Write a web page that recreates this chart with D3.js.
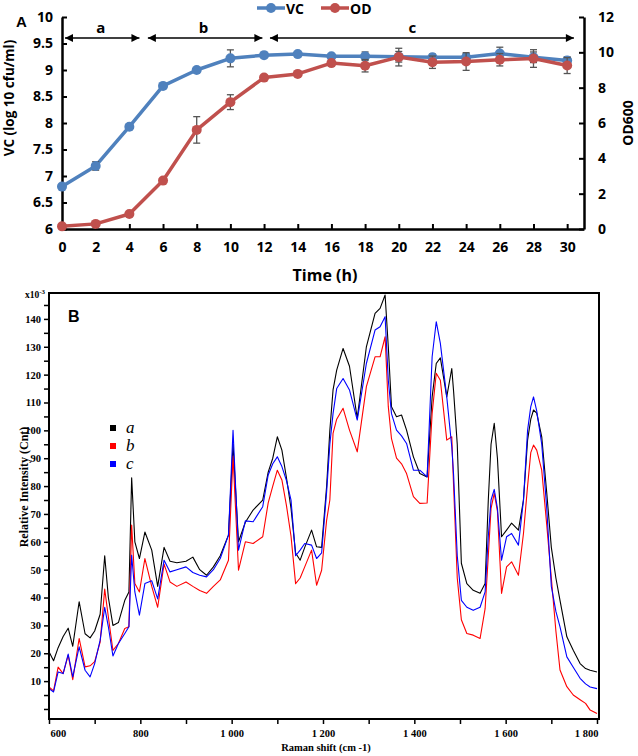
<!DOCTYPE html>
<html><head><meta charset="utf-8">
<script src="https://cdn.jsdelivr.net/npm/d3@7"></script>
<style>body{margin:0;background:#fff}svg{display:block}</style>
</head><body>
<svg id="c" width="638" height="756"></svg>
<script>
// ---------- Panel A data ----------
const hours = [0,2,4,6,8,10,12,14,16,18,20,22,24,26,28,30];
const vc    = [6.8,7.19,7.93,8.70,9.0,9.22,9.28,9.30,9.26,9.26,9.25,9.24,9.24,9.31,9.24,9.18];
const vcErr = [0.02,0.08,0.02,0.02,0.02,0.16,0.03,0.02,0.03,0.08,0.1,0.06,0.07,0.12,0.1,0.07];
const od    = [0.15,0.29,0.85,2.74,5.61,7.18,8.57,8.78,9.39,9.24,9.73,9.44,9.48,9.58,9.65,9.25];
const odErr = [0.05,0.05,0.05,0.05,0.75,0.42,0.1,0.1,0.15,0.35,0.5,0.35,0.5,0.35,0.5,0.45];
const vcTicks = [6,6.5,7,7.5,8,8.5,9,9.5,10];
const odTicks = [0,2,4,6,8,10,12];
const stageLabels = ['a','b','c'];
const stageStart = [0.18,5.1,12.35];
const stageEnd = [4.6,11.9,30.4];
const stageLabelPos = [2.3,8.4,20.8];

// ---------- Panel B data ----------
const shift = [600,610,620,631,642,652,666,679,690,700,712,722,730,740,752,766,775,781,788,798,810,825,838,852,865,880,900,915,930,945,960,975,993,1003,1015,1030,1047,1068,1080,1090,1100,1110,1120,1130,1140,1150,1160,1175,1186,1197,1208,1215,1222,1230,1244,1258,1275,1295,1314,1325,1336,1343,1350,1361,1372,1383,1398,1412,1428,1439,1448,1457,1471,1482,1486,1494,1503,1515,1529,1544,1555,1562,1568,1575,1582,1591,1602,1613,1628,1639,1648,1655,1661,1668,1679,1690,1700,1710,1719,1734,1748,1763,1775,1785,1800];
const specA = [20.5,17.3,22,26,29,22.5,38.5,27,25.5,28,34,55,40,30,31,39,42,83,60,54,63.5,57,44,58,53,52.5,53,54.5,50,48,51,55,62.4,95,60,67,71.4,75,85,90,97.7,92.9,83,72,56,53.4,58,64.2,58.2,58,80,100,114.5,121.6,129.4,123,104.4,130,142,143.8,148.6,130,108.5,104.9,105.5,100.1,90.5,84.5,83.3,112,124,126,112,122.2,114,95,52.3,45,42.6,41.5,45,75,95,102.5,90,61.8,64.2,66.7,64.2,75,96.5,104,107.3,106.2,97.7,77.5,58,47,39,25.9,21.1,16.3,14.5,13.9,13.3];
const specB = [7.9,6.5,15,12.7,19.3,10.5,25.3,15.1,15.5,17,24,43,33,21,23.5,28.9,29.5,66,45,42,54,44,36.5,52,45.6,44,45.6,44,42.5,41.5,44,46.3,53.4,90.8,49.8,60,59.4,61.8,74,80,85.7,82.2,73,62,45,47,51,57,44.4,49.8,67.8,75,98.9,104,107.9,100.1,92.3,115.7,126.4,126.4,133.6,108.5,97,90,88,84.5,76.2,73.8,73.9,106.1,120.5,118,96.5,97.7,80,47,32,27.1,26.5,25.3,36,55,72,77.4,71,41.5,51,52.8,48,63,80,92,94.7,92.9,85.7,66,47,28,14,8,5,3.3,2,-0.4,-1.6];
const specC = [7.3,6.1,13.3,12.7,19.7,11.5,22.3,13.9,11.5,16.3,24.7,36.5,29.5,19,23.5,27.1,29.5,55.2,42,33.7,45,46,39.5,53.4,49.2,50,51,49,48,47.4,50,54,62.4,100,57,67.5,67.2,72.6,84,88,90.5,87,82,75,55,57,59.4,58.8,54,56,78,95,106,115,118.6,114.5,103.7,124,136,137.2,140.8,118,106,100.1,98,95.3,85.7,85.7,83.3,126.4,139,131.2,112,94.1,84,55,39,36.5,35.4,36.5,42,62,75,78.8,72,53.4,61.8,63,58.8,75,100,108.5,112,107,95,72,44,35,29.5,18.7,15,11,9,7.9,7.3];
const specNames = ['a','b','c'];
const specColors = ['#000000','#ff0000','#0000ff'];
const intTicks = [10,20,30,40,50,60,70,80,90,100,110,120,130,140];
const shiftTicks = [600,800,1000,1200,1400,1600,1800];
const shiftTickLabels = ['600','800','1 000','1 200','1 400','1 600','1 800'];

const svg = d3.select('#c');
svg.append('rect').attr('width',638).attr('height',756).attr('fill','#fff');

// ================= Panel A =================
const sans = "'Open Sans', sans-serif";
const x = d3.scaleLinear([0,31],[62,584]);
const yL = d3.scaleLinear([6,10],[229,17]);
const yR = d3.scaleLinear([0,12],[229,17]);
const A = svg.append('g');

function styleAxis(g, fs){
  g.select('.domain').attr('stroke','#000').attr('stroke-width',2.5);
  g.selectAll('.tick line').attr('stroke','#000').attr('stroke-width',2);
  g.selectAll('.tick text').attr('fill','#000').style('font-family',sans).style('font-weight','bold').style('font-size',fs+'px');
}
const gx = A.append('g').attr('transform','translate(0,229)')
  .call(d3.axisBottom(x).tickValues(hours).tickSizeInner(-5).tickSizeOuter(0).tickPadding(13));
styleAxis(gx,14);
const gl = A.append('g').attr('transform','translate(62,0)')
  .call(d3.axisLeft(yL).tickValues(vcTicks).tickFormat(d3.format('~g')).tickSizeInner(-5).tickSizeOuter(0).tickPadding(9));
styleAxis(gl,14);
const gr = A.append('g').attr('transform','translate(584,0)')
  .call(d3.axisRight(yR).tickValues(odTicks).tickSizeInner(-5).tickSizeOuter(0).tickPadding(14));
styleAxis(gr,14);

// axis titles
A.append('text').attr('x',325).attr('y',281).attr('text-anchor','middle')
  .style('font-family',sans).style('font-weight','bold').style('font-size','16px').text('Time (h)');
A.append('text').attr('transform','translate(14,98) rotate(-90)').attr('text-anchor','middle')
  .style('font-family',sans).style('font-weight','bold').style('font-size','13.5px').text('VC (log 10 cfu/ml)');
A.append('text').attr('transform','translate(633,123) rotate(-90)').attr('text-anchor','middle')
  .style('font-family',sans).style('font-weight','bold').style('font-size','14px').text('OD600');
A.append('text').attr('x',16).attr('y',27).style('font-family',"'Liberation Sans', Arial, sans-serif")
  .style('font-weight','bold').style('font-size','15px').text('A');

const blue = '#4f81bd', red = '#c0504d';
function series(vals, errs, ys, col){
  const g = A.append('g');
  g.append('path').datum(hours.map((h,i)=>[h,vals[i]]))
    .attr('fill','none').attr('stroke',col).attr('stroke-width',3.5).attr('stroke-linejoin','round')
    .attr('d', d3.line().x(d=>x(d[0])).y(d=>ys(d[1])));
  const eb = g.append('g').attr('stroke','#555').attr('stroke-width',1.3);
  hours.forEach((h,i)=>{
    const cx = x(h), y1 = ys(vals[i]-errs[i]), y2 = ys(vals[i]+errs[i]);
    eb.append('line').attr('x1',cx).attr('x2',cx).attr('y1',y1).attr('y2',y2);
    eb.append('line').attr('x1',cx-3.5).attr('x2',cx+3.5).attr('y1',y1).attr('y2',y1);
    eb.append('line').attr('x1',cx-3.5).attr('x2',cx+3.5).attr('y1',y2).attr('y2',y2);
  });
  g.selectAll('circle').data(hours).join('circle')
    .attr('cx',h=>x(h)).attr('cy',(h,i)=>ys(vals[i])).attr('r',5).attr('fill',col);
}
series(vc, vcErr, yL, blue);
series(od, odErr, yR, red);

// stage arrows
const defs = svg.append('defs');
defs.append('marker').attr('id','ah').attr('viewBox','0 0 10 10').attr('refX',10).attr('refY',5)
  .attr('markerWidth',10).attr('markerHeight',8).attr('markerUnits','userSpaceOnUse').attr('orient','auto-start-reverse')
  .append('path').attr('d','M0,0L10,5L0,10Z').attr('fill','#000');
stageLabels.forEach((s,i)=>{
  A.append('line').attr('x1',x(stageStart[i])).attr('x2',x(stageEnd[i])).attr('y1',38).attr('y2',38)
    .attr('stroke','#000').attr('stroke-width',1.5)
    .attr('marker-start','url(#ah)').attr('marker-end','url(#ah)');
  A.append('text').attr('x',x(stageLabelPos[i])).attr('y',33).attr('text-anchor','middle')
    .style('font-family',sans).style('font-weight','bold').style('font-size','15px').text(s);
});

// legend
const lg = A.append('g');
[['VC',blue,257],['OD',red,321]].forEach(([t,c,lx])=>{
  lg.append('line').attr('x1',lx).attr('x2',lx+28).attr('y1',8).attr('y2',8).attr('stroke',c).attr('stroke-width',3.5);
  lg.append('circle').attr('cx',lx+14).attr('cy',8).attr('r',5).attr('fill',c);
  lg.append('text').attr('x',lx+29).attr('y',14).style('font-family',sans).style('font-weight','bold')
    .style('font-size','14px').text(t);
});

// ================= Panel B =================
const serif = "'Liberation Serif', 'Times New Roman', serif";
const xb = d3.scaleLinear([600,1804.4],[49,599]);
const yb = d3.scaleLinear([-3.6,149.3],[719,293]);
const B = svg.append('g');

const linesG = B.append('g');
[specA,specB,specC].forEach((arr,k)=>{
  linesG.append('path').datum(shift.map((s,i)=>[s,arr[i]]))
    .attr('fill','none').attr('stroke',specColors[k]).attr('stroke-width',1.1).attr('stroke-linejoin','round')
    .attr('d', d3.line().x(d=>xb(d[0])).y(d=>yb(d[1])));
});

B.append('rect').attr('x',49).attr('y',293).attr('width',550).attr('height',426)
  .attr('fill','none').attr('stroke','#000').attr('stroke-width',2);

const gyb = B.append('g').attr('transform','translate(49,0)')
  .call(d3.axisLeft(yb).tickValues(d3.range(0,150,5)).tickSizeInner(5).tickSizeOuter(0).tickPadding(3)
    .tickFormat(d=> intTicks.includes(d) ? d : ''));
gyb.select('.domain').remove();
gyb.selectAll('.tick line').attr('stroke','#000').attr('stroke-width',1.5);
gyb.selectAll('.tick text').attr('fill','#000').style('font-family',serif).style('font-weight','bold').style('font-size','10.5px');

const gxb = B.append('g').attr('transform','translate(0,719)')
  .call(d3.axisBottom(xb).tickValues(d3.range(600,1801,100)).tickSizeInner(5).tickSizeOuter(0).tickPadding(6)
    .tickFormat(d=>{const i=shiftTicks.indexOf(d); return i>=0 ? shiftTickLabels[i] : '';}));
gxb.select('.domain').remove();
gxb.selectAll('.tick line').attr('stroke','#000').attr('stroke-width',1.5);
gxb.selectAll('.tick text').attr('fill','#000').style('font-family',serif).style('font-weight','bold').style('font-size','10.5px');
gxb.selectAll('.tick text').filter(d=>d===600).attr('text-anchor','start').attr('x',1);
gxb.selectAll('.tick text').filter(d=>d===1800).attr('text-anchor','end').attr('x',1);

const tx = B.append('text').attr('x',25).attr('y',298).style('font-family',serif).style('font-weight','bold').style('font-size','9.5px');
tx.append('tspan').text('x10');
tx.append('tspan').attr('dy',-4).style('font-size','7px').text('-3');

B.append('text').attr('x',326).attr('y',751).attr('text-anchor','middle')
  .style('font-family',serif).style('font-weight','bold').style('font-size','10.5px').text('Raman shift (cm -1)');
B.append('text').attr('transform','translate(28,487) rotate(-90)').attr('text-anchor','middle')
  .style('font-family',serif).style('font-weight','bold').style('font-size','12px').text('Relative Intensity (Cnt)');
B.append('text').attr('x',68).attr('y',322).style('font-family',"'Liberation Sans', Arial, sans-serif")
  .style('font-weight','bold').style('font-size','16px').text('B');

const lb = B.append('g');
specNames.forEach((n,k)=>{
  const cy = 428 + k*18;
  lb.append('rect').attr('x',110).attr('y',cy-3).attr('width',6).attr('height',6).attr('fill',specColors[k]);
  lb.append('text').attr('x',126).attr('y',cy+5).style('font-family',serif).style('font-style','italic')
    .style('font-size','17px').text(n);
});
</script>
</body></html>
